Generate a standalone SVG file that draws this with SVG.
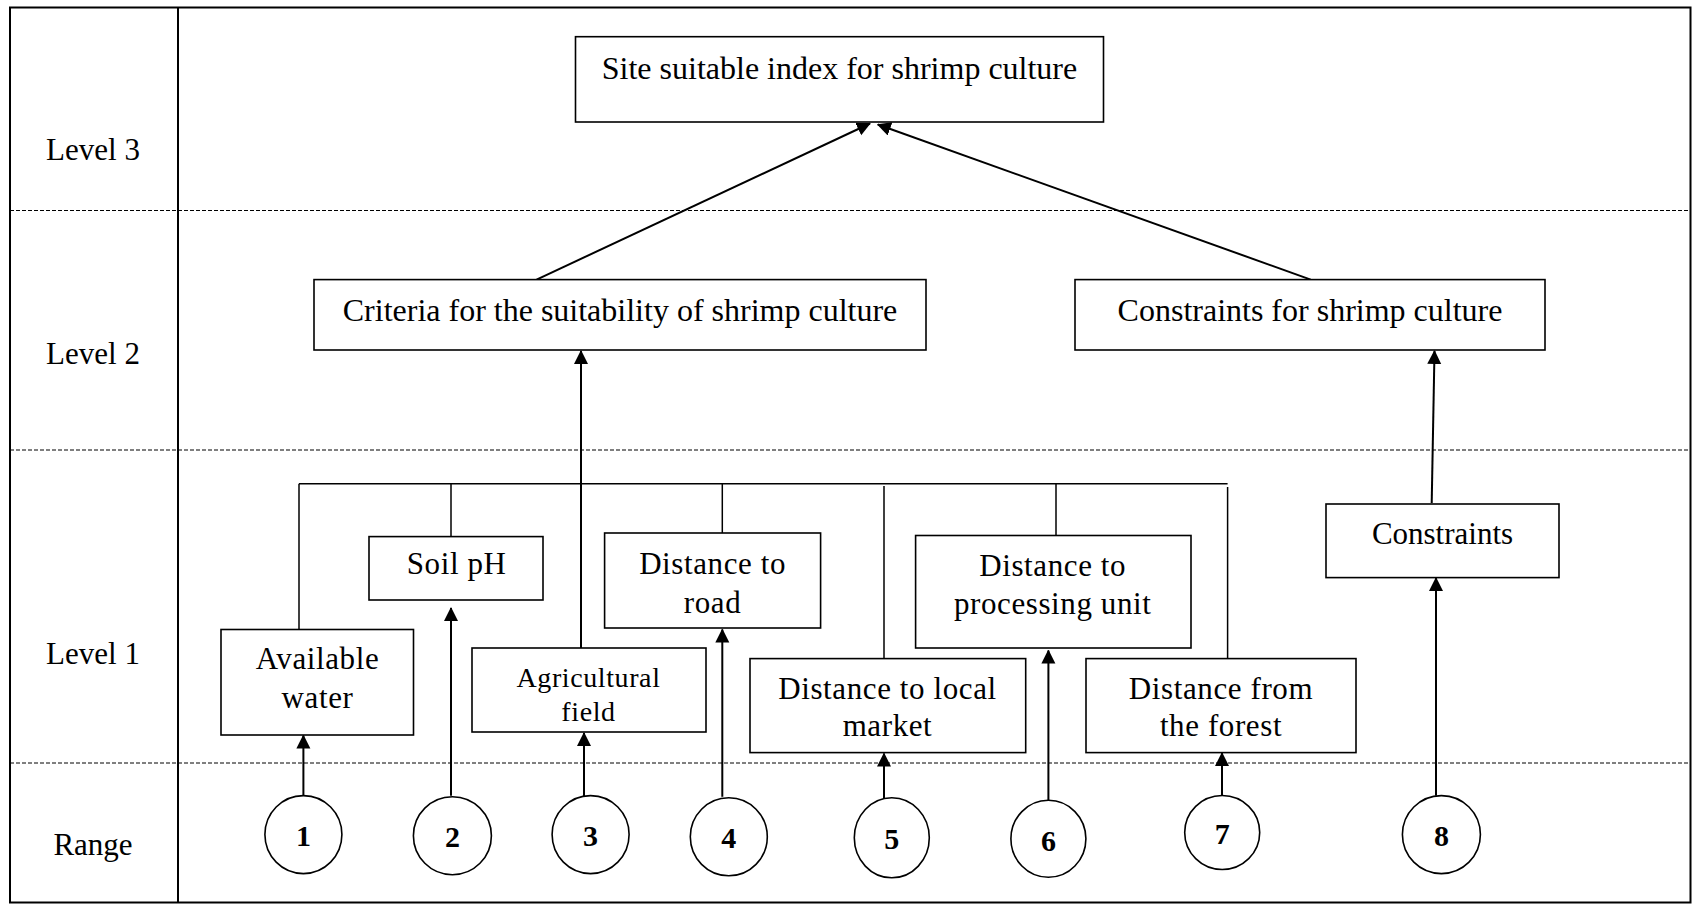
<svg xmlns="http://www.w3.org/2000/svg" width="1693" height="905" viewBox="0 0 1693 905">
<style>
  .t { font-family: "Liberation Serif", "Times New Roman", serif; font-size: 31px; fill: #000; text-anchor: middle; }
  .L { font-size: 32px; }
  .s { font-size: 28px; }
  .w { letter-spacing: 0.6px; }
  .n { font-family: "Liberation Serif", "Times New Roman", serif; font-size: 30px; font-weight: bold; text-anchor: middle; fill: #000; }
  .box { fill: #fff; stroke: #000; stroke-width: 1.6; }
  .circ { fill: #fff; stroke: #000; stroke-width: 1.6; }
  .dash { stroke: #000; stroke-width: 1; stroke-dasharray: 4 2; fill: none; }
  .ln { stroke: #000; stroke-width: 1.5; fill: none; }
  .ar { stroke: #000; stroke-width: 2; fill: none; marker-end: url(#ah); }
</style>
<defs>
  <marker id="ah" markerUnits="userSpaceOnUse" markerWidth="14" markerHeight="16" refX="13" refY="7" orient="auto">
    <path d="M0,0 L14,7 L0,14 z" fill="#000"/>
  </marker>
</defs>
<rect x="0" y="0" width="1693" height="905" fill="#fff"/>

<g id="frame">
  <rect x="10" y="7.5" width="1680.5" height="895" fill="none" stroke="#000" stroke-width="2"/>
  <line x1="178" y1="7.5" x2="178" y2="902.5" stroke="#000" stroke-width="2"/>
  <line class="dash" x1="10" y1="210.5" x2="1690" y2="210.5"/>
  <line class="dash" x1="10" y1="450" x2="1690" y2="450"/>
  <line class="dash" x1="10" y1="763" x2="1690" y2="763"/>
</g>

<g id="labels">
  <text class="t" x="93" y="160">Level 3</text>
  <text class="t" x="93" y="364">Level 2</text>
  <text class="t" x="93" y="664">Level 1</text>
  <text class="t" x="93" y="855">Range</text>
</g>

<g id="connectors">
  <line class="ln" x1="299" y1="483.7" x2="1227.6" y2="483.7"/>
  <line class="ln" x1="299" y1="483.7" x2="299" y2="629.5"/>
  <line class="ln" x1="451" y1="483.7" x2="451" y2="536.6"/>
  <line class="ln" x1="722.3" y1="483.7" x2="722.3" y2="533"/>
  <line class="ln" x1="884" y1="486" x2="884" y2="658.6"/>
  <line class="ln" x1="1056" y1="483.7" x2="1056" y2="535.5"/>
  <line class="ln" x1="1227.6" y1="487" x2="1227.6" y2="658.6"/>
  <line class="ar" x1="581" y1="648" x2="581" y2="351"/>
  <line class="ar" x1="536.6" y1="279.6" x2="870" y2="123.5"/>
  <line class="ar" x1="1310.7" y1="279.6" x2="877.8" y2="124.5"/>
  <line class="ar" x1="1431.7" y1="503" x2="1434.5" y2="351"/>
  <line class="ar" x1="303.4" y1="795.7" x2="303.4" y2="735.5"/>
  <line class="ar" x1="451" y1="795.7" x2="451" y2="608"/>
  <line class="ar" x1="584" y1="796.8" x2="584" y2="733"/>
  <line class="ar" x1="722.3" y1="796.8" x2="722.3" y2="629.5"/>
  <line class="ar" x1="884" y1="799" x2="884" y2="753.5"/>
  <line class="ar" x1="1048.4" y1="801" x2="1048.4" y2="650.5"/>
  <line class="ar" x1="1222" y1="795.7" x2="1222" y2="753"/>
  <line class="ar" x1="1436" y1="795.7" x2="1436" y2="578"/>
</g>

<g id="site-index">
  <rect class="box" x="575.5" y="36.7" width="528" height="85.3"/>
  <text class="t L" x="839.5" y="79">Site suitable index for shrimp culture</text>
</g>

<g id="criteria">
  <rect class="box" x="314" y="279.6" width="612" height="70.4"/>
  <text class="t L" x="620" y="320.7">Criteria for the suitability of shrimp culture</text>
</g>

<g id="constraints-culture">
  <rect class="box" x="1075" y="279.6" width="470" height="70.4"/>
  <text class="t L" x="1310" y="320.7">Constraints for shrimp culture</text>
</g>

<g id="constraints">
  <rect class="box" x="1326" y="504" width="233" height="73.6"/>
  <text class="t" x="1442.5" y="544">Constraints</text>
</g>

<g id="available-water">
  <rect class="box" x="221" y="629.5" width="192.5" height="105.5"/>
  <text class="t w" x="317.5" y="669.4">Available</text>
  <text class="t w" x="317.5" y="708">water</text>
</g>

<g id="soil-ph">
  <rect class="box" x="369" y="536.6" width="174" height="63.4"/>
  <text class="t w" x="456.7" y="574">Soil pH</text>
</g>

<g id="agricultural-field">
  <rect class="box" x="472" y="648" width="234" height="84"/>
  <text class="t s w" x="588.5" y="686.7">Agricultural</text>
  <text class="t s w" x="588.5" y="721">field</text>
</g>

<g id="distance-road">
  <rect class="box" x="604.6" y="533" width="216" height="95"/>
  <text class="t w" x="712.6" y="574">Distance to</text>
  <text class="t w" x="712.6" y="613">road</text>
</g>

<g id="distance-market">
  <rect class="box" x="750" y="658.6" width="275.7" height="94"/>
  <text class="t w" x="887.5" y="698.6">Distance to local</text>
  <text class="t w" x="887.5" y="736">market</text>
</g>

<g id="distance-processing">
  <rect class="box" x="915.6" y="535.5" width="275.4" height="112.5"/>
  <text class="t w" x="1052.7" y="575.5">Distance to</text>
  <text class="t w" x="1052.7" y="614">processing unit</text>
</g>

<g id="distance-forest">
  <rect class="box" x="1086" y="658.6" width="270" height="94"/>
  <text class="t w" x="1221" y="698.6">Distance from</text>
  <text class="t w" x="1221" y="736">the forest</text>
</g>

<g id="range-1"><ellipse class="circ" cx="303.4" cy="834.6" rx="38.5" ry="39"/><text class="n" x="303.4" y="846">1</text></g>
<g id="range-2"><ellipse class="circ" cx="452.4" cy="835.7" rx="39" ry="39"/><text class="n" x="452.4" y="847">2</text></g>
<g id="range-3"><ellipse class="circ" cx="590.6" cy="834.6" rx="38.5" ry="39"/><text class="n" x="590.6" y="846">3</text></g>
<g id="range-4"><ellipse class="circ" cx="728.8" cy="836.8" rx="38.5" ry="39"/><text class="n" x="728.8" y="848">4</text></g>
<g id="range-5"><ellipse class="circ" cx="891.8" cy="837.8" rx="37.5" ry="40"/><text class="n" x="891.8" y="849">5</text></g>
<g id="range-6"><ellipse class="circ" cx="1048.4" cy="838.8" rx="37.5" ry="38.5"/><text class="n" x="1048.4" y="851">6</text></g>
<g id="range-7"><ellipse class="circ" cx="1222.2" cy="832.5" rx="37.5" ry="37"/><text class="n" x="1222.2" y="844">7</text></g>
<g id="range-8"><ellipse class="circ" cx="1441.4" cy="834.6" rx="39" ry="39"/><text class="n" x="1441.4" y="846">8</text></g>
</svg>
